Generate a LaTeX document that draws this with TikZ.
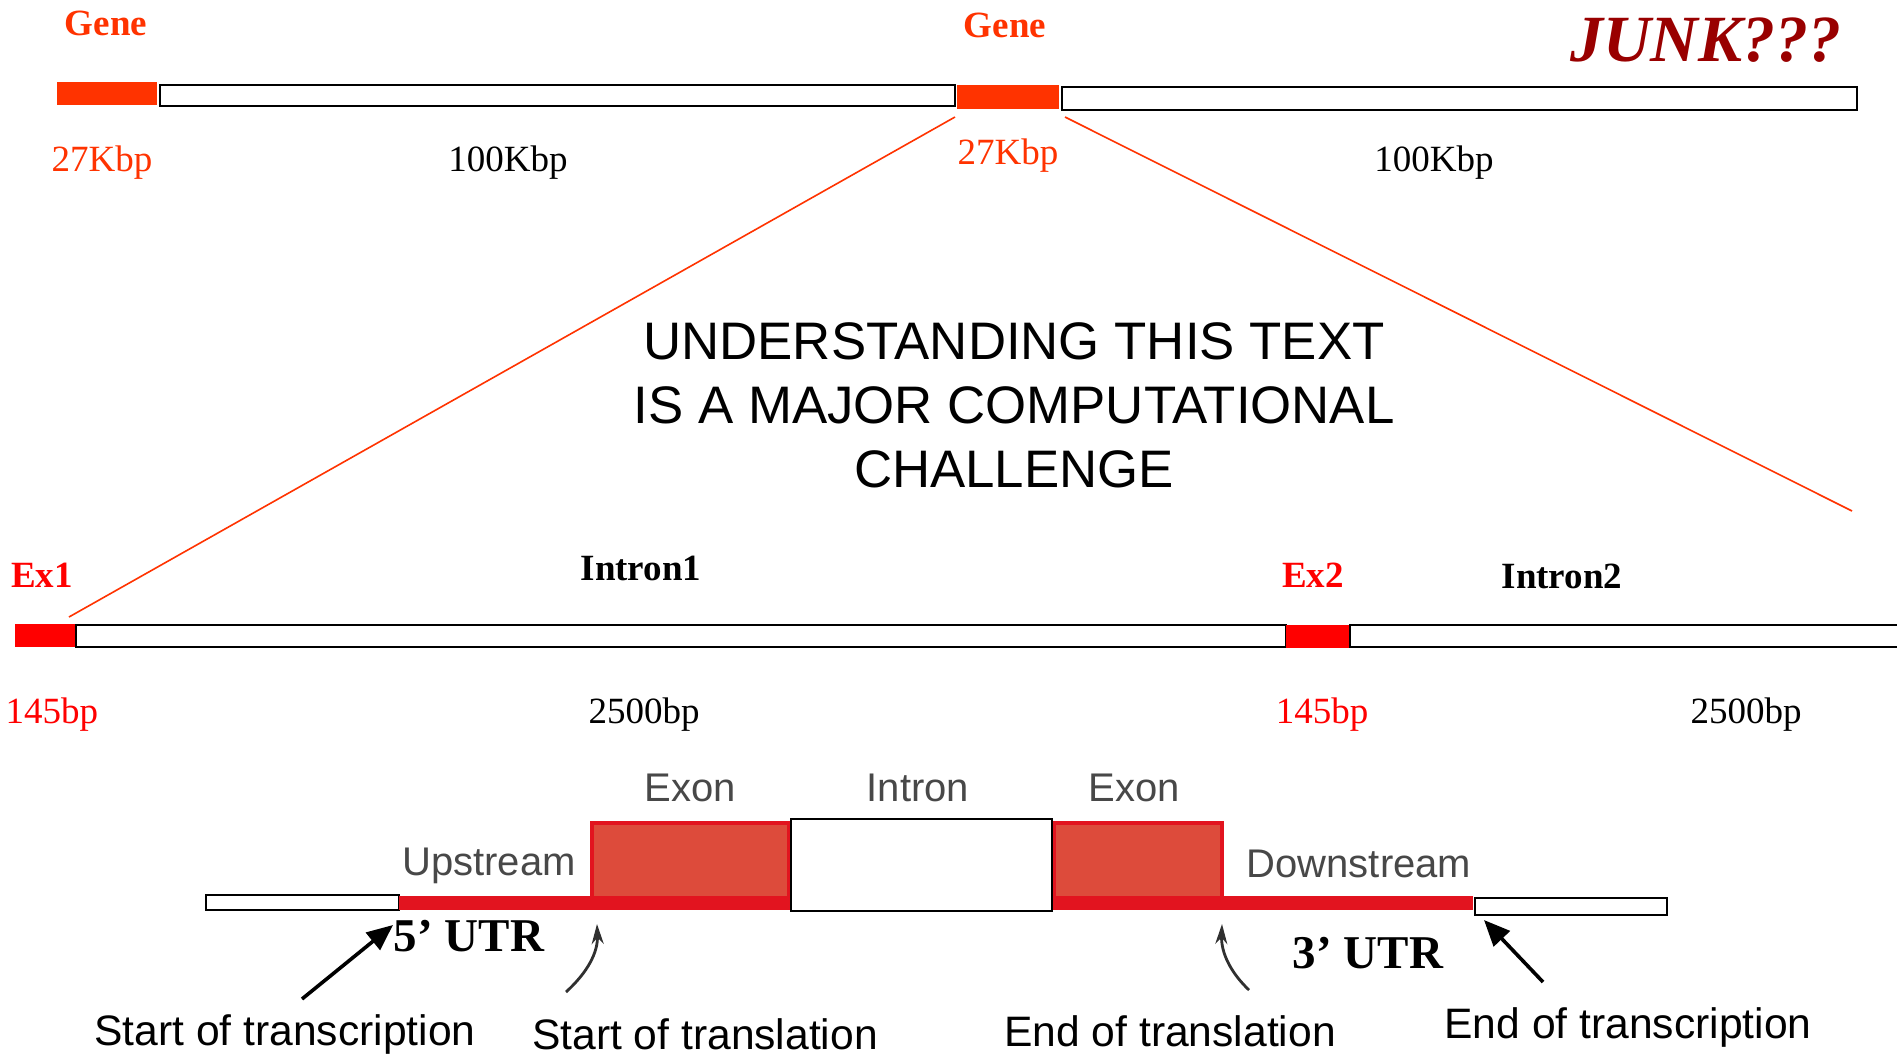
\documentclass[tikz,border=0pt]{standalone}
\usepackage{fontspec}
\setmainfont{Liberation Serif}
\setsansfont{Liberation Sans}
\usetikzlibrary{arrows.meta}
\definecolor{orangered}{HTML}{FF3300}
\definecolor{purered}{HTML}{FF0000}
\definecolor{junkred}{HTML}{990000}
\definecolor{exonfill}{HTML}{DD4B3B}
\definecolor{bandred}{HTML}{E2141F}
\definecolor{labgray}{HTML}{484848}
\definecolor{curvegray}{HTML}{303030}
\begin{document}
\begin{tikzpicture}[x=0.5pt,y=-0.5pt,
  obox/.style={fill=orangered, inner sep=0, outer sep=0},
  rbox/.style={fill=purered, inner sep=0, outer sep=0},
  wbox/.style={draw=black, fill=white, line width=1pt, inner sep=0, outer sep=0},
  zoomline/.style={draw=orangered, line width=0.8pt},
  serlab/.style={inner sep=0, font=\fontsize{18.5}{20}\selectfont},
  boldlab/.style={inner sep=0, font=\bfseries\fontsize{18.5}{20}\selectfont},
  utrlab/.style={inner sep=0, font=\bfseries\fontsize{23.5}{26}\selectfont},
  graylab/.style={inner sep=0, text=labgray, font=\sffamily\fontsize{20}{22}\selectfont},
  bottomlab/.style={inner sep=0, font=\sffamily\fontsize{21.3}{24}\selectfont},
  bigarrow/.style={draw=black, line width=1.8pt, -{Triangle[length=13pt,width=11pt]}},
  curvearrow/.style={draw=curvegray, line width=1.4pt, -{Stealth[length=10pt,width=6pt]}}
]
\clip (0,0) rectangle (1897,1056);
\fill[white] (0,0) rectangle (1897,1056);

% ---------- top row ----------
\node[obox, minimum width=50pt, minimum height=11.5pt] (g1) at (107,93.5) {};
\node[wbox, minimum width=397.5pt, minimum height=10.5pt] (w1) at (557.5,95.5) {};
\node[obox, minimum width=51pt, minimum height=12pt] (g2) at (1008,97) {};
\node[wbox, minimum width=397.5pt, minimum height=11.5pt] (w2) at (1459.5,98.5) {};

\node[boldlab, text=orangered] (gene1) at (106,23) {Gene};
\node[boldlab, text=orangered] (gene2) at (1005,25) {Gene};
\node[inner sep=0, text=junkred, font=\bfseries\itshape\fontsize{33}{36}\selectfont] (junk) at (1706,40) {JUNK???};
\node[serlab, text=orangered] (k1) at (102,163) {27Kbp};
\node[serlab] (k2) at (508,163) {100Kbp};
\node[serlab, text=orangered] (k3) at (1008,156) {27Kbp};
\node[serlab] (k4) at (1434,163) {100Kbp};

% ---------- central text ----------
\node[inner sep=0, align=center, font=\sffamily\fontsize{26.4}{32}\selectfont] (challenge) at (1014,405)
  {UNDERSTANDING THIS TEXT\\IS A MAJOR COMPUTATIONAL\\CHALLENGE};

% ---------- middle row ----------
\node[rbox, minimum width=30.5pt, minimum height=11.5pt] (e1) at (45.5,635.5) {};
\node[wbox, minimum width=605pt, minimum height=11pt] (i1) at (681,636) {};
\node[rbox, minimum width=31.5pt, minimum height=11.5pt] (e2) at (1317.5,636) {};
\node[wbox, minimum width=280pt, minimum height=11pt] (i2) at (1630,636) {};

\node[boldlab, text=purered] (ex1) at (42,575) {Ex1};
\node[boldlab] (intron1) at (641,568) {Intron1};
\node[boldlab, text=purered] (ex2) at (1313,575) {Ex2};
\node[boldlab] (intron2) at (1562,576) {Intron2};
\node[serlab, text=purered] (b1) at (52,715) {145bp};
\node[serlab] (b2) at (644,715) {2500bp};
\node[serlab, text=purered] (b3) at (1322,715) {145bp};
\node[serlab] (b4) at (1746,715) {2500bp};

% ---------- zoom lines ----------
\coordinate (zlt) at (955,117);
\coordinate (zlb) at (69,617);
\coordinate (zrt) at (1065,117);
\coordinate (zrb) at (1852,511);
\draw[zoomline] (zlt) -- (zlb);
\draw[zoomline] (zrt) -- (zrb);

% ---------- gene structure ----------
\node[wbox, line width=0.9pt, minimum width=96.5pt, minimum height=7.5pt] (lw) at (302.5,902.5) {};
\node[fill=exonfill, draw=bandred, line width=2pt, inner sep=0, minimum width=98.5pt, minimum height=42.5pt] (exa) at (690.5,865.5) {};
\node[fill=exonfill, draw=bandred, line width=2pt, inner sep=0, minimum width=84pt, minimum height=42.5pt] (exb) at (1138,865.5) {};
\node[fill=bandred, inner sep=0, minimum width=537pt, minimum height=7pt] (band) at (936,903) {};
\node[wbox, line width=1pt, minimum width=130.5pt, minimum height=46pt] (intr) at (921.5,865) {};
\node[wbox, line width=0.9pt, minimum width=96pt, minimum height=8.5pt] (rw) at (1571,906.5) {};

\node[graylab] (lexa) at (690,788) {Exon};
\node[graylab] (lintr) at (918,788) {Intron};
\node[graylab] (lexb) at (1134,788) {Exon};
\node[graylab] (lup) at (489,866) {Upstream};
\node[graylab] (ldown) at (1359,864) {Downstream};

\node[utrlab] (utr5) at (469,936) {5’ UTR};
\node[utrlab] (utr3) at (1368,953) {3’ UTR};

% ---------- bottom labels ----------
\node[bottomlab] (sotc) at (285,1034) {Start of transcription};
\node[bottomlab] (sotl) at (705,1034) {Start of translation};
\node[bottomlab] (eotl) at (1170,1031) {End of translation};
\node[bottomlab] (eotc) at (1628,1027) {End of transcription};

% ---------- arrows ----------
\coordinate (a1t) at (302,999);
\coordinate (a1h) at (393,925);
\coordinate (a2t) at (566,992);
\coordinate (a2h) at (597,924);
\coordinate (a3t) at (1249,990);
\coordinate (a3h) at (1222,924);
\coordinate (a4t) at (1543,982);
\coordinate (a4h) at (1484,920);
\draw[bigarrow] (a1t) -- (a1h);
\draw[curvearrow] (a2t) .. controls (588,972) and (598,952) .. (a2h);
\draw[curvearrow] (a3t) .. controls (1230,972) and (1221,952) .. (a3h);
\draw[bigarrow] (a4t) -- (a4h);
\end{tikzpicture}
\end{document}
